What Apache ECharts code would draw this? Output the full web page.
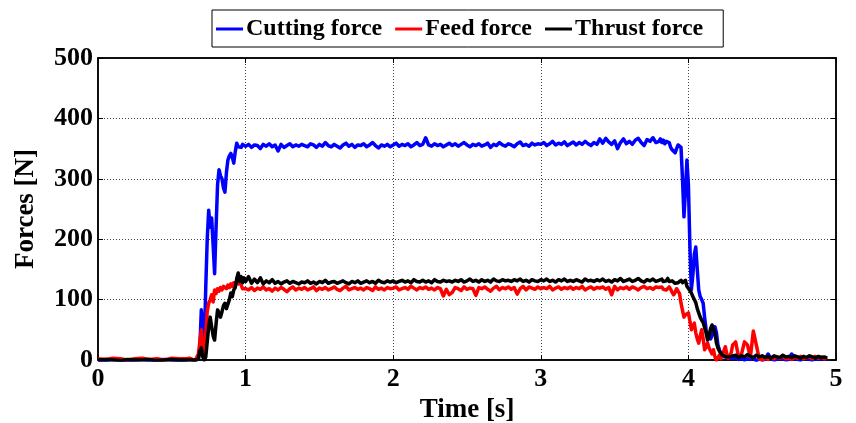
<!DOCTYPE html>
<html>
<head>
<meta charset="utf-8">
<script src="https://cdn.jsdelivr.net/npm/echarts@6/dist/echarts.min.js"></script>
<style>
html,body{margin:0;padding:0;background:#fff;overflow:hidden;}
#chart{width:856px;height:423px;}
</style>
</head>
<body>
<div id="chart"></div>
<script>
// ---- sample segments: [start time, step] ----
const segBase = [0.00, 0.05];
const segRise = [0.60, 0.01];
const segSteady = [1.00, 0.02];
const segFall = [3.80, 0.01];
const segTail = [4.30, 0.02];

// ---- Cutting force [N] ----
const cuttingBase = [0, -1, 1, 0, -1, 0, 1, -1, 0, 1, 0, -1];
const cuttingRise = [
  0, -1, 1, 0, 0, 1, 0, -1, 1, 20,
  83, 50, 21, 120, 200, 248, 220, 235, 190, 143,
  220, 290, 315, 305, 300, 285, 278, 310, 331, 338,
  342, 335, 326, 345, 359, 353, 356, 352, 357, 354];
const cuttingSteady = [
  354, 357, 352, 356, 355, 350, 357, 354, 358, 353,
  356, 346, 357, 352, 355, 358, 353, 356, 354, 357,
  355, 353, 358, 356, 352, 357, 354, 360, 355, 353,
  357, 354, 351, 356, 359, 354, 357, 352, 356, 355,
  358, 353, 356, 360, 355, 351, 356, 354, 357, 353,
  356, 359, 354, 357, 355, 358, 353, 356, 360, 355,
  357, 368, 356, 354, 358, 355, 357, 353, 356, 359,
  355, 358, 354, 357, 360, 356, 353, 357, 355, 358,
  354, 356, 359, 352, 357, 355, 360, 356, 354, 358,
  356, 353, 358, 361, 355, 357, 354, 359, 356, 358,
  357, 360, 355, 358, 362, 356, 359, 357, 361, 355,
  358, 361, 356, 360, 357, 362, 358, 355, 360, 357,
  366, 359, 367, 361, 357, 363, 350, 360, 366, 358,
  362, 357, 364, 367, 360, 355, 365, 362, 368, 360];
const cuttingFall = [
  362, 366, 360, 364, 358, 362, 364, 360, 352, 348,
  345, 343, 350, 356, 359, 352, 300, 237, 280, 331,
  290, 190, 116, 140, 175, 187, 150, 116, 105, 100,
  94, 70, 50, 38, 42, 35, 40, 50, 55, 45,
  25, 17, 10, 6, 3, 5, 2, 4, 1, 3];
const cuttingTail = [
  2, 4, 1, 3, 0, 2, 1, 3, -1, 2,
  0, 1, 10, 2, 0, 1, 3, 2, 0, 1,
  10, 2, 1, 0, 3, 2, 1, 0, 2, 1,
  3, 2, 1];

// ---- Feed force [N] ----
const feedBase = [2, 1, 3, 2, 0, 2, 3, 1, 2, 0, 3, 2];
const feedRise = [
  2, 1, 3, 2, 1, 2, 0, 2, 10, 30,
  50, 25, 5, 40, 80, 94, 100, 108, 96, 116,
  110, 118, 114, 120, 116, 122, 121, 118, 124, 120,
  126, 122, 128, 124, 130, 126, 132, 124, 118, 120];
const feedSteady = [
  118, 116, 120, 115, 119, 117, 121, 116, 118, 114,
  119, 116, 120, 117, 113, 118, 121, 116, 119, 117,
  120, 116, 118, 121, 115, 119, 117, 120, 116, 118,
  121, 117, 115, 119, 122, 116, 118, 120, 117, 119,
  116, 120, 118, 115, 121, 117, 119, 116, 120, 118,
  119, 121, 116, 118, 120, 117, 122, 119, 116, 120,
  118, 121, 117, 119, 116, 120, 118, 106, 117, 108,
  112, 120, 118, 115, 121, 117, 119, 118, 107, 120,
  118, 121, 117, 114, 119, 122, 116, 120, 118, 121,
  117, 120, 109, 118, 122, 116, 121, 119, 117, 121,
  118, 120, 118, 122, 116, 119, 121, 117, 120, 118,
  121, 117, 120, 118, 122, 116, 119, 121, 117, 120,
  119, 121, 117, 120, 108, 122, 116, 120, 118, 121,
  117, 121, 119, 116, 120, 122, 118, 120, 117, 121];
const feedFall = [
  120, 118, 121, 117, 120, 116, 119, 121, 117, 112,
  108, 112, 118, 116, 110, 94, 82, 71, 75, 78,
  78, 65, 50, 56, 61, 45, 35, 28, 40, 50,
  35, 17, 22, 28, 20, 17, 10, 17, 5, 0,
  3, 8, 2, 5, 15, 22, 10, 3, 0, 12];
const feedTail = [
  25, 30, 5, 10, 30, 25, 5, 48, 25, 2,
  0, 3, 1, 4, 2, 5, 3, 6, 2, 4,
  1, 5, 3, 6, 2, 4, 5, 2, 6, 3,
  5, 2, 4];

// ---- Thrust force [N] ----
const thrustBase = [0, 1, 0, -1, 1, 0, 0, 1, -1, 0, 1, 0];
const thrustRise = [
  0, 1, 0, -1, 0, 1, 0, 0, 2, 15,
  20, 5, 0, 5, 30, 55, 71, 55, 40, 33,
  60, 83, 78, 71, 80, 90, 94, 85, 88, 100,
  111, 105, 116, 120, 135, 144, 130, 138, 128, 136];
const thrustSteady = [
  130, 138, 127, 134, 128, 136, 126, 131, 128, 133,
  127, 130, 126, 129, 131, 127, 130, 128, 126, 129,
  128, 131, 127, 129, 126, 130, 128, 132, 127, 129,
  130, 127, 129, 131, 128, 126, 130, 128, 131, 127,
  129, 131, 128, 130, 127, 132, 129, 128, 131, 129,
  131, 128, 130, 132, 129, 131, 128, 133, 130, 129,
  132, 129, 131, 128, 133, 130, 129, 132, 130, 131,
  129, 132, 130, 133, 129, 131, 134, 130, 132, 129,
  133, 130, 132, 129, 134, 131, 130, 133, 131, 132,
  130, 133, 131, 134, 130, 132, 129, 133, 131, 130,
  133, 131, 134, 130, 132, 129, 133, 131, 134, 130,
  132, 130, 133, 131, 129, 134, 131, 132, 130, 133,
  131, 134, 130, 132, 129, 133, 131, 135, 130, 132,
  134, 130, 132, 135, 131, 129, 133, 131, 134, 130];
const thrustFall = [
  132, 129, 134, 130, 133, 131, 135, 130, 128, 131,
  129, 127, 130, 128, 126, 132, 128, 130, 132, 122,
  120, 115, 111, 105, 100, 95, 85, 78, 71, 66,
  62, 61, 45, 33, 40, 52, 58, 61, 45, 28,
  20, 15, 12, 8, 10, 6, 9, 5, 8, 6];
const thrustTail = [
  5, 8, 4, 7, 5, 9, 6, 4, 8, 5,
  7, 4, 6, 3, 7, 5, 4, 8, 5, 6,
  4, 7, 5, 3, 6, 4, 7, 5, 3, 6,
  4, 5, 3];

// ---- axes / labels ----
const seriesNames = ['Cutting force', 'Feed force', 'Thrust force'];
const seriesColors = ['#0000ff', '#ff0000', '#000000'];
const xTitle = 'Time [s]';
const yTitle = 'Forces [N]';

function pairs(seg, vals) {
  return vals.map((v, i) => [+(seg[0] + i * seg[1]).toFixed(3), v]);
}
function build(b, r, s, f, t) {
  return [].concat(pairs(segBase, b), pairs(segRise, r), pairs(segSteady, s),
                   pairs(segFall, f), pairs(segTail, t));
}
const dataSets = [
  build(cuttingBase, cuttingRise, cuttingSteady, cuttingFall, cuttingTail),
  build(feedBase, feedRise, feedSteady, feedFall, feedTail),
  build(thrustBase, thrustRise, thrustSteady, thrustFall, thrustTail)
];

const FONT = '"Liberation Serif", "Times New Roman", serif';
const chart = echarts.init(document.getElementById('chart'), null, {renderer: 'canvas'});
const gridLine = {show: true, lineStyle: {type: [1, 2], color: '#444', width: 1}};
chart.setOption({
  animation: false,
  backgroundColor: '#fff',
  grid: {left: 98, right: 20, top: 58, bottom: 63, show: true, borderColor: '#000', borderWidth: 1.5,
         containLabel: false, outerBoundsMode: 'none'},
  legend: {
    data: seriesNames,
    left: 212, top: 10,
    orient: 'horizontal',
    borderColor: '#000', borderWidth: 1,
    padding: [7, 20, 6, 4],
    itemGap: 13,
    itemWidth: 27, itemHeight: 3,
    icon: 'rect',
    textStyle: {fontFamily: FONT, fontWeight: 'bold', fontSize: 24, color: '#000', padding: [0, 0, 0, -2]}
  },
  xAxis: [{
    type: 'value', min: 0, max: 5, interval: 1,
    name: xTitle, nameLocation: 'middle', nameGap: 32,
    nameTextStyle: {fontFamily: FONT, fontWeight: 'bold', fontSize: 27, color: '#000'},
    axisLine: {show: true, onZero: false, lineStyle: {color: '#000', width: 1.5}},
    axisTick: {show: true, inside: true, length: 5, lineStyle: {color: '#000'}},
    axisLabel: {fontFamily: FONT, fontWeight: 'bold', fontSize: 26, color: '#000', margin: 6},
    splitLine: gridLine
  }, {
    type: 'value', min: 0, max: 5, interval: 1, position: 'top',
    axisLine: {show: true, onZero: false, lineStyle: {color: '#000', width: 1.5}},
    axisTick: {show: true, inside: true, length: 5, lineStyle: {color: '#000'}},
    axisLabel: {show: false}, splitLine: {show: false}
  }],
  yAxis: [{
    type: 'value', min: 0, max: 500, interval: 100,
    name: yTitle, nameLocation: 'middle', nameGap: 58,
    nameTextStyle: {fontFamily: FONT, fontWeight: 'bold', fontSize: 27, color: '#000'},
    axisLine: {show: true, onZero: false, lineStyle: {color: '#000', width: 1.5}},
    axisTick: {show: true, inside: true, length: 5, lineStyle: {color: '#000'}},
    axisLabel: {fontFamily: FONT, fontWeight: 'bold', fontSize: 26, color: '#000', margin: 5},
    splitLine: gridLine
  }, {
    type: 'value', min: 0, max: 500, interval: 100, position: 'right',
    axisLine: {show: true, onZero: false, lineStyle: {color: '#000', width: 1.5}},
    axisTick: {show: true, inside: true, length: 5, lineStyle: {color: '#000'}},
    axisLabel: {show: false}, splitLine: {show: false}
  }],
  series: seriesNames.map((n, i) => ({
    name: n, type: 'line', data: dataSets[i],
    xAxisIndex: 0, yAxisIndex: 0,
    showSymbol: false, symbol: 'none',
    color: seriesColors[i],
    lineStyle: {color: seriesColors[i], width: 3.5, join: 'round'},
    clip: true
  }))
});
</script>
</body>
</html>
